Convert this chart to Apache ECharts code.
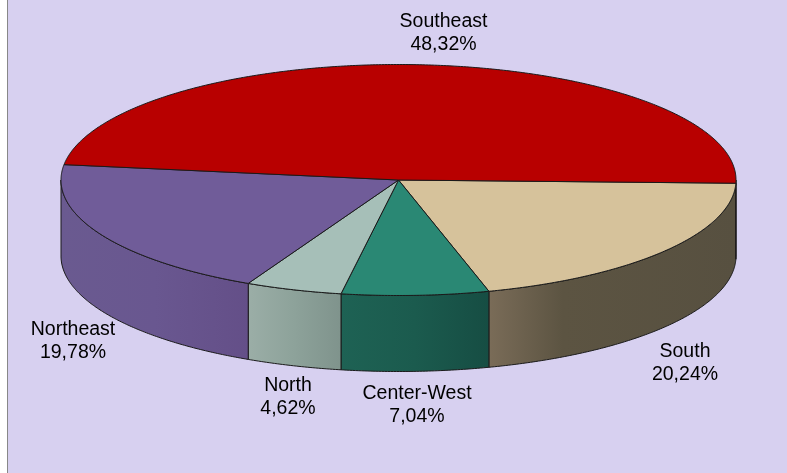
<!DOCTYPE html>
<html>
<head>
<meta charset="utf-8">
<style>
  html, body { margin: 0; padding: 0; background: #fff; }
  #chart { width: 787px; height: 473px; }
</style>
<script src="https://cdn.jsdelivr.net/npm/echarts@6/dist/echarts.min.js"></script>
</head>
<body>
<div id="chart"></div>
<script>
// data, clockwise from the right hand side
var regions = ['South', 'Center-West', 'North', 'Northeast', 'Southeast'];
var shares = [20.24, 7.04, 4.62, 19.78, 48.32];

// look of each slice
var topColors = ['#D6C29B', '#2A8874', '#A6BFB8', '#705C99', '#B80000'];
var sideStops = [
  [[0, '#7A6C58'], [0.3, '#5C5442'], [1, '#575040']],
  [[0, '#1E6254'], [0.5, '#1B5B4E'], [1, '#164D43']],
  [[0, '#9BAEA7'], [0.5, '#8DA29A'], [1, '#7F938C']],
  [[0, '#6A5A90'], [0.5, '#695790'], [1, '#644F88']],
  [[0, '#800000'], [1, '#800000']]
];
// label anchor (px) of each slice
var labelX = [685, 417, 288, 73, 443.5];
var labelY = [363, 405, 397, 341, 33];

var startDeg = 1.6;   // South starts just under the horizontal
var depth = 0.658;    // height of the disc in y axis units
var total = shares.reduce(function (a, b) { return a + b; }, 0);

function arc(api, from, to, drop) {
  var pts = [];
  var n = Math.max(1, Math.ceil(Math.abs(to - from) * 2));
  for (var i = 0; i <= n; i++) {
    var a = (from + (to - from) * i / n) * Math.PI / 180;
    pts.push(api.coord([Math.cos(a), -Math.sin(a) - drop]));
  }
  return pts;
}

var chart = echarts.init(document.getElementById('chart'));

chart.setOption({
  animation: false,
  backgroundColor: '#fff',
  graphic: [
    { type: 'rect', z: -10, shape: { x: 8, y: 0, width: 779, height: 473 }, style: { fill: '#D7D0F0' } },
    { type: 'rect', z: -10, shape: { x: 7, y: 0, width: 1, height: 473 }, style: { fill: '#888888' } }
  ],
  grid: { left: 61, top: 64.5, width: 675, height: 231 },
  xAxis: { type: 'value', min: -1, max: 1, show: false },
  yAxis: { type: 'value', min: -1, max: 1, show: false },
  series: [{
    type: 'custom',
    coordinateSystem: 'cartesian2d',
    clip: false,
    data: shares.map(function (v, i) { return [i, v]; }),
    encode: { x: 0, y: 1 },
    renderItem: function (params, api) {
      var idx = api.value(0);
      var before = 0;
      for (var k = 0; k < idx; k++) before += shares[k];
      var from = startDeg + before / total * 360;
      var to = from + api.value(1) / total * 360;
      var children = [];

      // outer wall, only the part facing us (0..180 degrees)
      var ranges = [[Math.max(from, 0), Math.min(to, 180)], [Math.max(from, 360), Math.min(to, 360 + startDeg)]];
      ranges.forEach(function (r) {
        if (r[1] <= r[0]) return;
        var upper = arc(api, r[0], r[1], 0);
        var lower = arc(api, r[1], r[0], depth);
        children.push({
          type: 'polygon',
          z2: 1,
          shape: { points: upper.concat(lower) },
          style: {
            fill: new echarts.graphic.LinearGradient(0, 0, 1, 0, sideStops[idx].map(function (s) {
              return { offset: s[0], color: s[1] };
            })),
            stroke: '#1a1a1a',
            lineWidth: 1,
            lineJoin: 'round'
          }
        });
      });

      // top face
      var centre = api.coord([0, 0]);
      children.push({
        type: 'polygon',
        z2: 2,
        shape: { points: [centre].concat(arc(api, from, to, 0)) },
        style: { fill: topColors[idx], stroke: '#1a1a1a', lineWidth: 1, lineJoin: 'round' }
      });

      // label
      children.push({
        type: 'text',
        z2: 3,
        x: labelX[idx],
        y: labelY[idx],
        style: {
          text: regions[idx] + '\n' + api.value(1).toFixed(2).replace('.', ',') + '%',
          fill: '#000',
          font: '19.5px "Liberation Sans", Arial, sans-serif',
          lineHeight: 23,
          align: 'center',
          verticalAlign: 'middle'
        }
      });

      return { type: 'group', children: children };
    }
  }]
});
</script>
</body>
</html>
